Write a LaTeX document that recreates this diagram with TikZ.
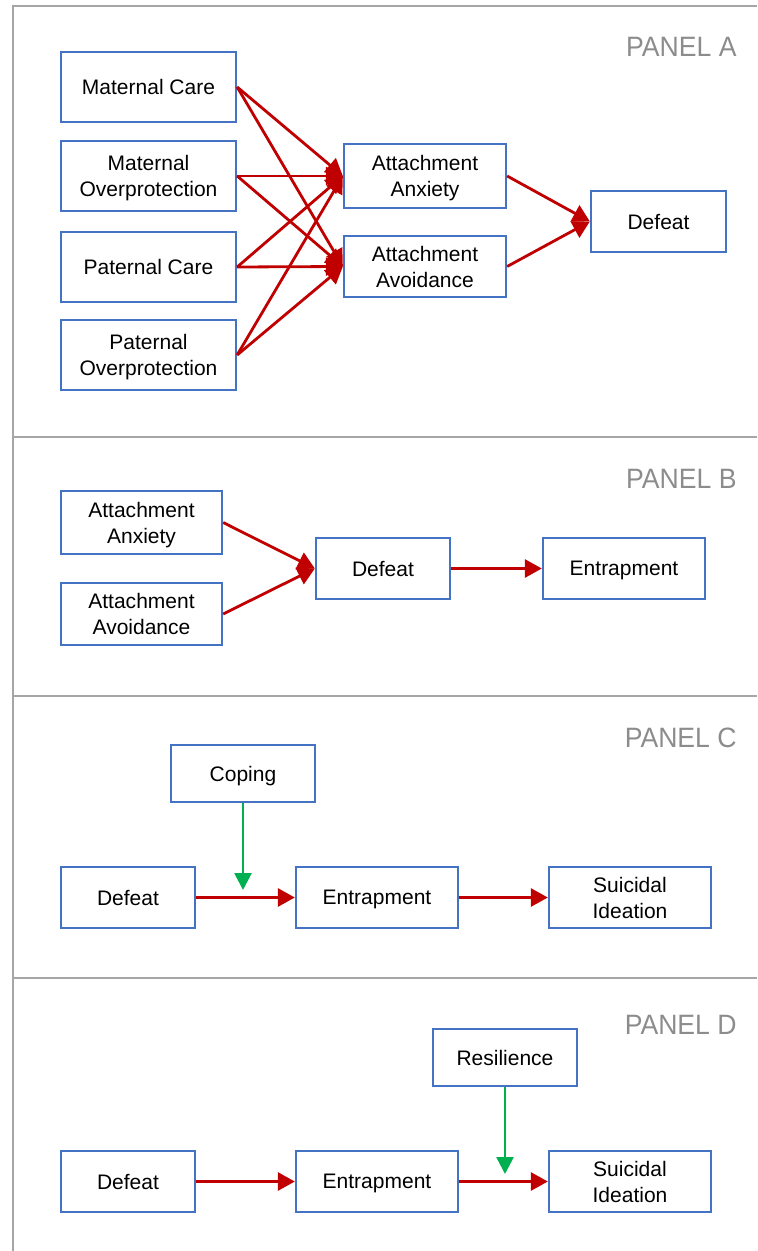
\documentclass[tikz,border=0pt]{standalone}
\usepackage{fontspec}
\setmainfont{Liberation Sans}
\usetikzlibrary{arrows.meta}
\definecolor{boxblue}{HTML}{4472C4}
\definecolor{linkred}{HTML}{C00000}
\definecolor{modgreen}{HTML}{00B050}
\definecolor{framegray}{HTML}{A6A6A6}
\definecolor{labelgray}{HTML}{8C8C8C}
\tikzset{
  box/.style 2 args={draw=boxblue, line width=1.15pt, fill=white, minimum width=#1,
    minimum height=#2, align=center, inner sep=1pt, text depth=0pt,
    font=\fontsize{10.5}{13}\selectfont},
  link/.style={draw=linkred, line width=1.4pt, -{Triangle[length=8.5pt,width=9pt]}},
  moderate/.style={draw=modgreen, line width=1.3pt, -{Triangle[length=8.5pt,width=8.5pt]}},
  panel/.style={anchor=east, inner sep=0pt, text=labelgray, font=\fontsize{14}{16}\selectfont},
  frame/.style={draw=framegray, line width=0.6pt}
}
\newcommand{\panellabel}[1]{\scalebox{0.95}[1]{#1}}
\begin{document}
\begin{tikzpicture}[x=0.5pt, y=-0.5pt]
  \useasboundingbox (0,0) rectangle (757,1251);
  % frame and panel rules
  \draw[frame] (757,6) -- (13,6) -- (13,1251);
  \foreach \y in {437,696,978}{
    \draw[frame] (13,\y) -- (757,\y);
  }
  % panel A
  \node[panel] (pa) at (737,47) {\panellabel{PANEL A}};
  \node[box={87.5pt}{35pt}] (mcare) at (148.5,87) {Maternal Care};
  \node[box={87.5pt}{35pt}] (mover) at (148.5,176) {Maternal\\Overprotection};
  \node[box={87.5pt}{35pt}] (pcare) at (148.5,267) {Paternal Care};
  \node[box={87.5pt}{35pt}] (pover) at (148.5,355) {Paternal\\Overprotection};
  \node[box={81pt}{32pt}] (anxa) at (425,176) {Attachment\\Anxiety};
  \node[box={81pt}{30.5pt}] (avoa) at (425,266.5) {Attachment\\Avoidance};
  \node[box={67.5pt}{30.5pt}] (defa) at (658.5,221.5) {Defeat};
  \foreach \src in {mcare,mover,pcare,pover}{
    \draw[link] (\src.east) -- (anxa.west);
    \draw[link] (\src.east) -- (avoa.west);
  }
  \draw[link] (anxa.east) -- (defa.west);
  \draw[link] (avoa.east) -- (defa.west);
  % panel B
  \node[panel] (pb) at (737,479) {\panellabel{PANEL B}};
  \node[box={80.5pt}{31.5pt}] (anxb) at (141.5,522.5) {Attachment\\Anxiety};
  \node[box={80.5pt}{31pt}] (avob) at (141.5,614) {Attachment\\Avoidance};
  \node[box={67pt}{30.5pt}] (defb) at (383,568.5) {Defeat};
  \node[box={81pt}{30.5pt}] (entb) at (624,568.5) {Entrapment};
  \draw[link] (anxb.east) -- (defb.west);
  \draw[link] (avob.east) -- (defb.west);
  \draw[link] (defb) -- (entb);
  % panel C
  \node[panel] (pc) at (737,738) {\panellabel{PANEL C}};
  \node[box={72pt}{28.5pt}] (cope) at (243,773.5) {Coping};
  \node[box={67pt}{30.5pt}] (defc) at (128,897.5) {Defeat};
  \node[box={81pt}{30.5pt}] (entc) at (377,897.5) {Entrapment};
  \node[box={81pt}{30.5pt}] (suic) at (630,897.5) {Suicidal\\Ideation};
  \coordinate (copeend) at (243,890);
  \draw[link] (defc) -- (entc);
  \draw[link] (entc) -- (suic);
  \draw[moderate] (cope.south) -- (copeend);
  % panel D
  \node[panel] (pd) at (737,1025) {\panellabel{PANEL D}};
  \node[box={72pt}{28.5pt}] (resil) at (505,1057.5) {Resilience};
  \node[box={67pt}{30.5pt}] (defd) at (128,1181.5) {Defeat};
  \node[box={81pt}{30.5pt}] (entd) at (377,1181.5) {Entrapment};
  \node[box={81pt}{30.5pt}] (suid) at (630,1181.5) {Suicidal\\Ideation};
  \coordinate (resilend) at (505,1174);
  \draw[link] (defd) -- (entd);
  \draw[link] (entd) -- (suid);
  \draw[moderate] (resil.south) -- (resilend);
\end{tikzpicture}
\end{document}
